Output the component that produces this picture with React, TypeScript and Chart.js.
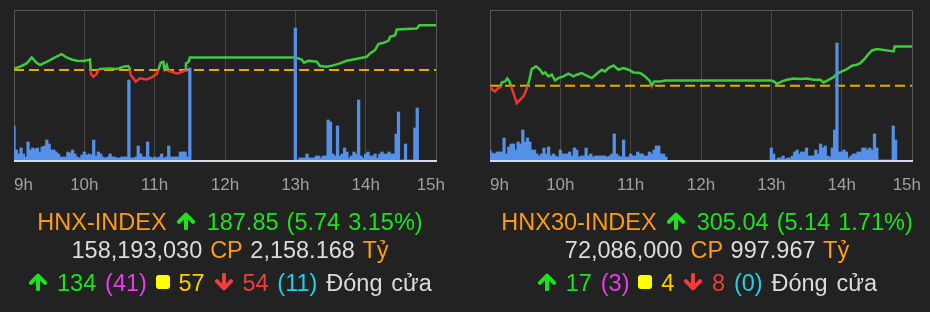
import React, { useEffect, useRef } from 'react';
import { Chart, registerables } from 'chart.js';

Chart.register(...registerables);

// ---------- data ----------
const TICK_LABELS = ['9h', '10h', '11h', '12h', '13h', '14h', '15h'];
const SESSION_END_MIN = 360; // minutes after 9:00
const VOL_STEP_MIN = 2; // one volume bar every 2 minutes
const AM_START_MIN = 0;
const PM_START_MIN = 240;

// HNX-INDEX
const HNX_REF = 182.11;
const HNX_Y_RANGE = [170.6, 189.8];
const HNX_PRICE_MIN = [
  0, 5.1, 10.8, 15.1, 19.3, 22.2, 26.4, 30.7, 35.0, 40.7,
  44.9, 49.2, 53.5, 59.2, 63.4, 64.8, 65.7, 67.7, 70.5, 72.0,
  73.4, 81.9, 87.6, 93.3, 97.5, 98.7, 99.5, 101.8, 103.8, 107.5,
  113.2, 117.5, 121.7, 123.1, 125.1, 127.4, 128.3, 130.3, 131.7, 134.5,
  138.8, 141.6, 145.9, 146.7, 149, 150, 240, 245.4, 247.4, 251.1,
  258.2, 261.1, 266.8, 272.5, 278.1, 283.8, 289.5, 298.0, 300.9, 303.7,
  308.0, 310.8, 315.1, 319.4, 320.8, 325.1, 326.5, 343.6, 345.8, 360,
];
const HNX_PRICE = [
  182.32, 182.54, 182.96, 183.73, 183.05, 182.75, 183.05, 183.39, 183.73, 184.15,
  183.73, 183.47, 183.30, 183.26, 183.39, 183.47, 181.60, 181.26, 181.60, 182.11,
  182.24, 182.32, 182.24, 182.54, 182.62, 182.32, 181.47, 181.05, 180.62, 181.05,
  180.92, 181.18, 181.60, 182.11, 183.05, 183.17, 182.20, 182.75, 182.02, 181.90,
  181.68, 181.77, 182.02, 182.96, 183.17, 183.73, 183.73, 183.47, 183.05, 183.30,
  183.17, 182.62, 182.54, 182.71, 182.96, 183.30, 183.47, 183.73, 183.81, 184.24,
  184.66, 185.43, 185.60, 185.85, 186.36, 186.57, 187.30, 187.42, 187.85, 187.85,
];
const HNX_VOL_AM = [
  34, 10, 6, 12, 6, 3, 18, 10, 12, 11,
  12, 8, 13, 14, 20, 16, 10, 10, 8, 6,
  3, 3, 3, 8, 7, 10, 6, 3, 2, 5,
  8, 5, 6, 5, 20, 4, 8, 6, 3, 2,
  3, 6, 3, 3, 2, 2, 3, 3, 3, 80,
  2, 2, 3, 14, 6, 3, 3, 18, 3, 2,
  3, 2, 3, 6, 2, 3, 14, 3, 3, 3,
  3, 8, 8, 8, 3, 92,
];
const HNX_VOL_PM = [
  132, 0, 2, 2, 2, 6, 2, 2, 2, 4,
  4, 2, 4, 4, 40, 38, 6, 4, 34, 4,
  6, 12, 8, 2, 4, 8, 6, 60, 4, 2,
  6, 8, 4, 4, 6, 2, 6, 8, 6, 6,
  8, 6, 6, 26, 48, 0, 0, 16, 0, 0,
  0, 32, 52,
];

// HNX30-INDEX
const HNX30_REF = 299.9;
const HNX30_Y_RANGE = [290.2, 309.8];
const HNX30_PRICE_MIN = [
  0, 1.4, 4.3, 7.1, 9.1, 10.0, 12.8, 14.8, 16.5, 17.6,
  18.5, 20.5, 22.8, 25.6, 28.5, 29.9, 31.9, 33.6, 35.6, 39.3,
  42.7, 45.0, 47.0, 49.8, 52.7, 55.5, 58.3, 62.6, 66.9, 71.2,
  74.0, 78.3, 82.5, 86.8, 91.1, 95.3, 98.2, 101.0, 105.3, 109.6,
  113.8, 118.1, 122.4, 128.1, 132.3, 136.6, 138.0, 140.0, 145.1, 150,
  240, 242.0, 244.8, 249.0, 253.3, 259.0, 264.7, 270.4, 276.1, 281.8,
  284.6, 288.9, 293.1, 296.0, 300.3, 304.5, 308.8, 313.0, 315.9, 320.1,
  323.0, 325.9, 330.1, 344.3, 345.2, 360,
];
const HNX30_PRICE = [
  299.9, 299.46, 299.16, 299.59, 299.73, 300.34, 300.47, 300.86, 300.47, 300.03,
  299.59, 298.72, 297.63, 298.07, 298.51, 298.94, 299.73, 300.68, 302.08, 302.43,
  301.99, 301.47, 301.64, 301.12, 301.34, 300.6, 300.9, 301.12, 301.47, 301.12,
  301.34, 301.56, 301.21, 300.9, 301.47, 301.99, 301.77, 302.21, 302.56, 301.99,
  302.21, 302.0, 301.64, 301.56, 301.12, 300.47, 299.85, 300.47, 300.47, 300.6,
  300.6, 300.47, 300.16, 300.47, 300.68, 300.86, 300.77, 300.86, 300.68, 300.68,
  300.34, 300.68, 301.03, 301.47, 301.77, 302.08, 302.51, 302.65, 302.86, 303.52,
  304.08, 304.51, 304.69, 304.39, 305.04, 305.04,
];
const HNX30_VOL_AM = [
  10, 7, 6, 8, 8, 8, 22, 6, 13, 16,
  16, 10, 18, 16, 30, 18, 22, 18, 10, 10,
  6, 4, 6, 12, 6, 13, 4, 6, 4, 3,
  10, 6, 6, 6, 8, 4, 12, 10, 3, 4,
  4, 12, 4, 6, 3, 4, 4, 4, 4, 4,
  3, 4, 6, 26, 6, 4, 3, 20, 3, 3,
  6, 4, 4, 8, 6, 6, 4, 4, 8, 6,
  10, 14, 14, 6, 6, 3,
];
const HNX30_VOL_PM = [
  12, 6, 0, 2, 2, 4, 1, 2, 2, 4,
  8, 10, 6, 8, 8, 12, 4, 4, 4, 10,
  6, 16, 12, 14, 4, 3, 12, 30, 117, 8,
  8, 10, 8, 2, 4, 6, 6, 8, 8, 12,
  12, 10, 12, 10, 26, 12, 0, 0, 0, 0,
  0, 0, 34, 20,
];
const VOL_AXIS_MAX = 150;

// summary texts
const HNX_SUMMARY = ['HNX-INDEX', '187.85', '5.74', '3.15%', '158,193,030', '2,158.168'];
const HNX_BREADTH = [134, 41, 57, 54, 11];
const HNX30_SUMMARY = ['HNX30-INDEX', '305.04', '5.14', '1.71%', '72,086,000', '997.967'];
const HNX30_BREADTH = [17, 3, 4, 8, 0];

// ---------- styles ----------
const BG = '#222222';
const GREEN_LINE = '#3ccc3c';
const RED_LINE = '#f03434';
const REF_COLOR = '#e5ac00';
const BAR_COLOR = '#5590e8';
const GRID_COLOR = '#474747';
const FRAME_COLOR = '#585858';
const BASE_COLOR = '#d8dbe8';
const TICK_COLOR = '#a0a0a0';
const FONT = "'Liberation Sans', Arial, Helvetica, sans-serif";

const C_ORANGE = '#fb9c14';
const C_GREEN = '#1ee21e';
const C_GRAY = '#dcdcdc';
const C_MAGENTA = '#ea3cea';
const C_GOLD = '#ffcc00';
const C_RED = '#f23c3c';
const C_CYAN = '#22d0e8';

const LABEL_DY = 3;
const LAST_LABEL_DX = 9;

const framePlugin = {
  id: 'frame',
  beforeDraw(chart: any) {
    const sc = chart.scales.x;
    const items = sc.getLabelItems();
    if (items && items.length > 1) {
      const ca = chart.chartArea;
      items.forEach((it: any) => {
        if (it.__shifted) return;
        it.__shifted = true;
        it.options.translation = [it.options.translation[0], it.options.translation[1] + LABEL_DY];
      });
      const first = items[0];
      const last = items[items.length - 1];
      first.options.textAlign = 'left';
      first.options.translation = [ca.left, first.options.translation[1]];
      last.options.textAlign = 'right';
      last.options.translation = [ca.right + LAST_LABEL_DX, last.options.translation[1]];
    }
  },
  beforeDatasetsDraw(chart: any) {
    const { ctx, chartArea: ca } = chart;
    ctx.save();
    ctx.strokeStyle = FRAME_COLOR;
    ctx.lineWidth = 1;
    ctx.beginPath();
    const l = Math.round(ca.left) + 0.5;
    const r = Math.round(ca.right) + 0.5;
    const t = Math.round(ca.top) + 0.5;
    const b = Math.round(ca.bottom);
    ctx.moveTo(l, b);
    ctx.lineTo(l, t);
    ctx.lineTo(r, t);
    ctx.lineTo(r, b);
    ctx.stroke();
    ctx.restore();
  },
  afterDatasetsDraw(chart: any) {
    const { ctx, chartArea: ca } = chart;
    ctx.save();
    ctx.fillStyle = BASE_COLOR;
    ctx.fillRect(Math.round(ca.left), Math.round(ca.bottom), Math.round(ca.right) - Math.round(ca.left) + 1, 2);
    ctx.restore();
  },
};

function buildVolume(am: number[], pm: number[]) {
  const pts: { x: number; y: number }[] = [];
  am.forEach((v, i) => pts.push({ x: AM_START_MIN + i * VOL_STEP_MIN, y: v }));
  pm.forEach((v, i) => pts.push({ x: PM_START_MIN + i * VOL_STEP_MIN, y: v }));
  return pts;
}

type ChartProps = {
  left: number;
  padLeft: number;
  padRight: number;
  refValue: number;
  yRange: number[];
  priceMin: number[];
  price: number[];
  volAm: number[];
  volPm: number[];
};

function IntradayChart(p: ChartProps) {
  const ref = useRef<HTMLCanvasElement>(null);
  useEffect(() => {
    const canvas = ref.current;
    if (!canvas) return;
    const pricePts = p.priceMin.map((m, i) => ({ x: m, y: p.price[i] }));
    const lineColor = (ctx: any) => {
      const chart = ctx.chart;
      const ca = chart.chartArea;
      if (!ca) return GREEN_LINE;
      const yRef = chart.scales.y.getPixelForValue(p.refValue);
      const g = chart.ctx.createLinearGradient(0, ca.top, 0, ca.bottom);
      const f = Math.min(1, Math.max(0, (yRef - ca.top) / (ca.bottom - ca.top)));
      g.addColorStop(0, GREEN_LINE);
      g.addColorStop(f, GREEN_LINE);
      g.addColorStop(f, RED_LINE);
      g.addColorStop(1, RED_LINE);
      return g;
    };
    const chart = new Chart(canvas, {
      type: 'bar',
      data: {
        datasets: [
          {
            type: 'bar',
            data: buildVolume(p.volAm, p.volPm),
            backgroundColor: BAR_COLOR,
            borderWidth: 0,
            yAxisID: 'v',
            barThickness: 2.6,
            order: 0,
          } as any,
          {
            type: 'line',
            data: pricePts,
            yAxisID: 'y',
            borderColor: lineColor,
            borderWidth: 2.5,
            pointRadius: 0,
            tension: 0,
            order: 1,
          } as any,
          {
            type: 'line',
            data: [
              { x: 0, y: p.refValue },
              { x: SESSION_END_MIN, y: p.refValue },
            ],
            yAxisID: 'y',
            borderColor: REF_COLOR,
            borderDash: [10, 5],
            borderWidth: 2,
            pointRadius: 0,
            order: 2,
          } as any,
        ],
      },
      options: {
        animation: false,
        responsive: false,
        maintainAspectRatio: false,
        layout: { padding: { left: p.padLeft, right: p.padRight, top: 10, bottom: 0 } },
        plugins: { legend: { display: false }, tooltip: { enabled: false } },
        scales: {
          x: {
            type: 'linear',
            min: 0,
            max: SESSION_END_MIN,
            offset: false,
            grid: { color: GRID_COLOR, lineWidth: 1, drawTicks: false, offset: false },
            border: { display: false },
            ticks: {
              stepSize: 60,
              autoSkip: false,
              maxRotation: 0,
              align: 'inner',
              padding: 12,
              color: TICK_COLOR,
              font: { family: FONT, size: 17 },
              callback: (v: any) => TICK_LABELS[Math.round(Number(v) / 60)] ?? '',
            },
            afterFit: (s: any) => {
              s.height = 40;
            },
          },
          y: { type: 'linear', display: false, min: p.yRange[0], max: p.yRange[1] },
          v: { type: 'linear', display: false, min: 0, max: VOL_AXIS_MAX },
        },
      } as any,
      plugins: [framePlugin],
    });
    return () => chart.destroy();
  }, []);
  return (
    <canvas
      ref={ref}
      width={465}
      height={200}
      style={{ position: 'absolute', left: p.left, top: 0, width: 465, height: 200, display: 'block' }}
    />
  );
}

const Up = () => (
  <svg width="20" height="18" viewBox="0 0 20 18" style={{ display: 'inline-block', verticalAlign: 'baseline' }}>
    <path d="M10 16.2V3.6 M2.9 9.8 L10 2.6 L17.1 9.8" stroke={C_GREEN} strokeWidth="4" fill="none" strokeLinecap="round" strokeLinejoin="round" />
  </svg>
);
const Down = () => (
  <svg width="20" height="18" viewBox="0 0 20 18" style={{ display: 'inline-block', verticalAlign: 'baseline' }}>
    <path d="M10 1.8V14.4 M2.9 8.2 L10 15.4 L17.1 8.2" stroke={C_RED} strokeWidth="4" fill="none" strokeLinecap="round" strokeLinejoin="round" />
  </svg>
);
const Square = () => (
  <span style={{ display: 'inline-block', width: 14, height: 14, background: '#ffff00', borderRadius: 3, verticalAlign: '2px' }} />
);

function Summary({ left, width, s, b }: { left: number; width: number; s: string[]; b: number[] }) {
  const line: React.CSSProperties = {
    position: 'absolute',
    left: 0,
    width,
    textAlign: 'center',
    whiteSpace: 'nowrap',
    fontSize: 23.5,
    lineHeight: '28px',
    fontFamily: FONT,
  };
  return (
    <div style={{ position: 'absolute', left, top: 0, width, height: 312 }}>
      <div style={{ ...line, top: 208, wordSpacing: 1.5 }}>
        <span style={{ color: C_ORANGE }}>{s[0]}</span>{' '}
        <span style={{ marginLeft: 1, marginRight: 3 }}><Up /></span>{' '}
        <span style={{ color: C_GREEN }}>{s[1]} ({s[2]} {s[3]})</span>
      </div>
      <div style={{ ...line, top: 236, wordSpacing: 1.4 }}>
        <span style={{ color: C_GRAY }}>{s[4]}</span> <span style={{ color: C_ORANGE }}>CP</span>{' '}
        <span style={{ color: C_GRAY }}>{s[5]}</span> <span style={{ color: C_ORANGE }}>Tỷ</span>
      </div>
      <div style={{ ...line, top: 268.5, wordSpacing: 2.3 }}>
        <Up /> <span style={{ color: C_GREEN }}>{b[0]}</span> <span style={{ color: C_MAGENTA }}>({b[1]})</span> <Square />{' '}
        <span style={{ color: C_GOLD }}>{b[2]}</span> <Down /> <span style={{ color: C_RED }}>{b[3]}</span>{' '}
        <span style={{ color: C_CYAN }}>({b[4]})</span> <span style={{ color: C_GRAY }}>Đóng cửa</span>
      </div>
    </div>
  );
}

export default function App() {
  useEffect(() => {
    document.body.style.margin = '0';
    document.body.style.background = BG;
  }, []);
  return (
    <div style={{ position: 'relative', width: 930, height: 312, background: BG, overflow: 'hidden', fontFamily: FONT }}>
      <IntradayChart
        left={0}
        padLeft={14}
        padRight={29}
        refValue={HNX_REF}
        yRange={HNX_Y_RANGE}
        priceMin={HNX_PRICE_MIN}
        price={HNX_PRICE}
        volAm={HNX_VOL_AM}
        volPm={HNX_VOL_PM}
      />
      <IntradayChart
        left={465}
        padLeft={25}
        padRight={18}
        refValue={HNX30_REF}
        yRange={HNX30_Y_RANGE}
        priceMin={HNX30_PRICE_MIN}
        price={HNX30_PRICE}
        volAm={HNX30_VOL_AM}
        volPm={HNX30_VOL_PM}
      />
      <Summary left={0} width={460} s={HNX_SUMMARY} b={HNX_BREADTH} />
      <Summary left={474} width={466} s={HNX30_SUMMARY} b={HNX30_BREADTH} />
    </div>
  );
}
